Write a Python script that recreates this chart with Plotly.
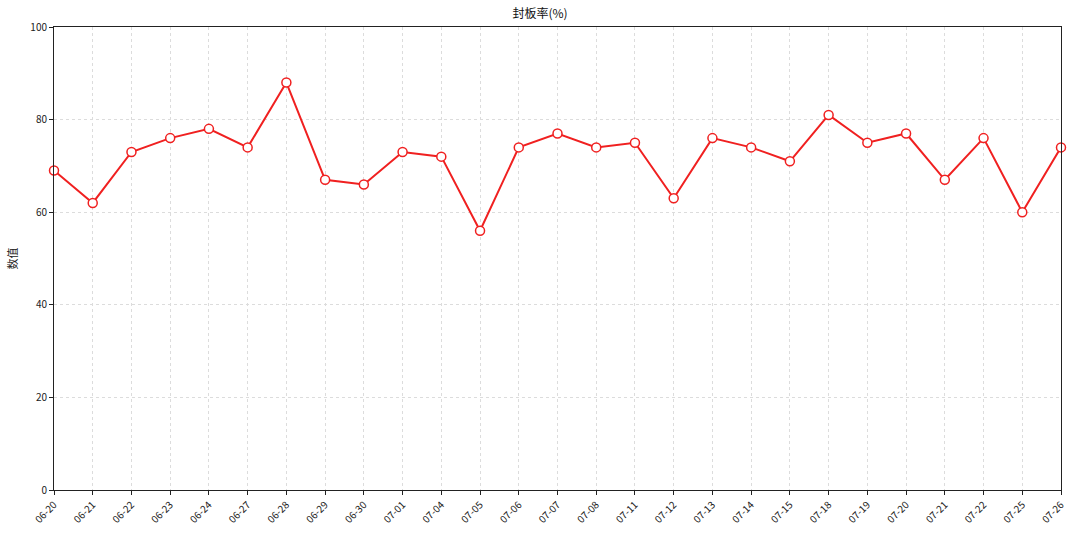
import plotly.graph_objects as go

dates = ["06-20", "06-21", "06-22", "06-23", "06-24", "06-27", "06-28", "06-29", "06-30",
         "07-01", "07-04", "07-05", "07-06", "07-07", "07-08", "07-11", "07-12", "07-13",
         "07-14", "07-15", "07-18", "07-19", "07-20", "07-21", "07-22", "07-25", "07-26"]
rate = [69, 62, 73, 76, 78, 74, 88, 67, 66,
        73, 72, 56, 74, 77, 74, 75, 63, 76,
        74, 71, 81, 75, 77, 67, 76, 60, 74]
y_ticks = [0, 20, 40, 60, 80, 100]

font = "Noto Sans CJK SC, DejaVu Sans, sans-serif"

fig = go.Figure()
fig.add_trace(go.Scatter(
    x=dates, y=rate, mode="lines+markers",
    line=dict(color="#f02020", width=2),
    marker=dict(size=9, color="white", line=dict(color="#f02020", width=1.5)),
    cliponaxis=False,
))

fig.update_layout(
    width=1080, height=535,
    margin=dict(l=54, r=19, t=27, b=45),
    paper_bgcolor="white", plot_bgcolor="white",
    font=dict(family=font, size=10, color="#222"),
    title=dict(text="封板率(%)", x=0.5, xanchor="center", y=0.975, yanchor="middle",
               font=dict(size=12, color="#111")),
    showlegend=False,
)
grid = dict(showgrid=True, gridcolor="#dcdcdc", griddash="3px,3px", gridwidth=1,
            showline=True, linecolor="#222", linewidth=1, mirror=True,
            ticks="outside", ticklen=4, tickcolor="#222", tickfont=dict(size=10),
            automargin=False)
fig.update_xaxes(type="category", range=[0, len(dates) - 1], tickangle=-45, **grid)
fig.update_yaxes(range=[0, 100], tickvals=y_ticks, zeroline=False,
                 title=dict(text="数值", font=dict(size=11), standoff=10), **grid)

# the page body has an 8px margin by default; drop it so the figure sits at 0,0
fig.write_html("out.html", config={"displayModeBar": False},
               post_script="document.body.style.margin='0';")
